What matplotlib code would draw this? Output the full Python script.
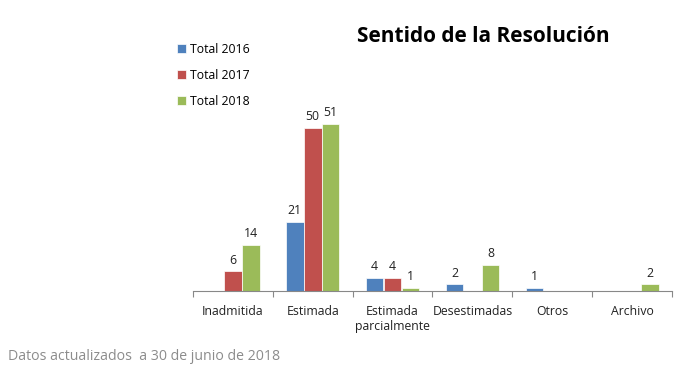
import matplotlib
matplotlib.use("Agg")
import matplotlib.pyplot as plt
import numpy as np

categories = ["Inadmitida", "Estimada", "Estimada\nparcialmente", "Desestimadas", "Otros", "Archivo"]
series_names = ["Total 2016", "Total 2017", "Total 2018"]
total_2016 = [0, 21, 4, 2, 1, 0]
total_2017 = [6, 50, 4, 0, 0, 0]
total_2018 = [14, 51, 1, 8, 0, 2]
colors = ["#4F81BD", "#C0504D", "#9BBB59"]

plt.rcParams['font.family'] = ['Open Sans', 'DejaVu Sans']

fig = plt.figure(figsize=(7, 3.84), dpi=100)
ax = fig.add_axes([193/700, 93/384, (672-193)/700, 196/384])

x = np.arange(len(categories))
width = 0.22
offsets = [-0.225, 0, 0.225]
handles = []
for vals, off, col, name in zip([total_2016, total_2017, total_2018], offsets, colors, series_names):
    bars = ax.bar(x + off, vals, width, color=col, label=name, edgecolor='white', linewidth=0.5)
    handles.append(bars)
    for xi, v in zip(x + off, vals):
        if v != 0:
            ax.text(xi, v + 1.5, str(v), ha='center', va='bottom', fontsize=8.8, color='#222222')

ax.set_xlim(-0.5, len(categories) - 0.5)
ax.set_ylim(0, 60)
for s in ['top', 'right', 'left']:
    ax.spines[s].set_visible(False)
ax.spines['bottom'].set_color('#888888')
ax.set_yticks([])
ax.set_xticks(np.arange(len(categories) + 1) - 0.5, minor=False)
ax.set_xticklabels([''] * (len(categories) + 1))
ax.tick_params(axis='x', which='major', length=4, color='#888888', direction='out')
ax.set_xticks(x, minor=True)
ax.set_xticklabels(categories, minor=True, fontsize=8.8, color='#222222')
ax.tick_params(axis='x', which='minor', length=0, pad=10)

fig.text(483/700, 1 - 36/384, "Sentido de la Resolución", ha='center', va='center',
         fontsize=15, fontweight='bold', color='#000000')

leg = fig.legend(handles=handles, labels=series_names, loc='upper left',
                 bbox_to_anchor=(166/700, 1 - 32/384), frameon=False, fontsize=8.8,
                 handlelength=0.7, handleheight=0.7, handletextpad=0.35, labelspacing=1.05)

fig.text(8/700, 1 - 357/384, "Datos actualizados  a 30 de junio de 2018", ha='left', va='center',
         fontsize=10.2, color='#8C8C8C')

fig.savefig("out.png", dpi=100)
